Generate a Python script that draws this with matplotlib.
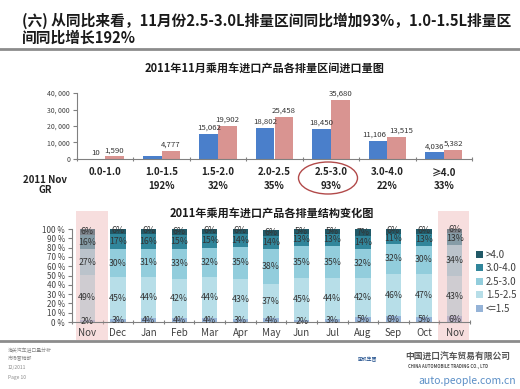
import matplotlib
matplotlib.use("Agg")
import matplotlib.pyplot as plt
from matplotlib.patches import Rectangle, Ellipse
from matplotlib.lines import Line2D
import numpy as np

plt.rcParams['font.family'] = ['Noto Sans CJK SC', 'DejaVu Sans']

# ---------------- data ----------------
title_text = "(六) 从同比来看，11月份2.5-3.0L排量区间同比增加93%，1.0-1.5L排量区\n间同比增长192%"
top_title = "2011年11月乘用车进口产品各排量区间进口量图"
bottom_title = "2011年乘用车进口产品各排量结构变化图"

disp_cats = ["0.0-1.0", "1.0-1.5", "1.5-2.0", "2.0-2.5", "2.5-3.0", "3.0-4.0", "≥4.0"]
nov2010 = [10, 1636, 15062, 18802, 18450, 11106, 4036]
nov2010_labels = ["10", "", "15,062", "18,802", "18,450", "11,106", "4,036"]
nov2011 = [1590, 4777, 19902, 25458, 35680, 13515, 5382]
nov2011_labels = ["1,590", "4,777", "19,902", "25,458", "35,680", "13,515", "5,382"]
growth = ["", "192%", "32%", "35%", "93%", "22%", "33%"]
top_yticks = [0, 10000, 20000, 30000, 40000]
top_yticklabels = ["0", "10, 000", "20, 000", "30, 000", "40, 000"]

months = ["Nov", "Dec", "Jan", "Feb", "Mar", "Apr", "May", "Jun", "Jul", "Aug", "Sep", "Oct", "Nov"]
seg_names = ["<=1.5", "1.5-2.5", "2.5-3.0", "3.0-4.0", ">4.0"]
share_le15 = [2, 3, 4, 4, 4, 3, 4, 2, 3, 5, 6, 5, 6]
share_15_25 = [49, 45, 44, 42, 44, 43, 37, 45, 44, 42, 46, 47, 43]
share_25_30 = [27, 30, 31, 33, 32, 35, 38, 35, 35, 32, 32, 30, 34]
share_30_40 = [16, 17, 16, 15, 15, 14, 14, 13, 13, 14, 11, 13, 13]
share_gt40 = [6, 6, 6, 6, 6, 6, 6, 5, 5, 7, 6, 6, 6]
pct_ticks = [0, 10, 20, 30, 40, 50, 60, 70, 80, 90, 100]

# ---------------- figure ----------------
W, H = 520, 389
fig = plt.figure(figsize=(W / 100, H / 100), dpi=100)
fig.patch.set_facecolor("white")

def fx(px):
    return px / W

def fy(py):
    return 1 - py / H

# page title
fig.text(fx(22), fy(13), title_text, fontsize=10.6, fontweight="bold",
         color="#1a1a1a", va="top", ha="left", linespacing=1.0)
fig.add_artist(Line2D([0, 1], [fy(49), fy(49)], color="#8c8c8c", lw=2))
fig.add_artist(Line2D([0, 1], [fy(341), fy(341)], color="#8c8c8c", lw=2))

# ---------------- top chart ----------------
ax1 = fig.add_axes([fx(77), fy(159), fx(472) - fx(77), fy(93) - fy(159)])
x = np.arange(len(disp_cats))
bw = 0.33
b1 = ax1.bar(x - bw / 2, nov2010, bw, color="#4a7fcb", zorder=2)
b2 = ax1.bar(x + bw / 2, nov2011, bw, color="#d99491", zorder=2)
for i, (xi, v, lab) in enumerate(zip(x - bw / 2, nov2010, nov2010_labels)):
    if lab:
        dx = -3 if i == 5 else 0
        ax1.annotate(lab, (xi, v), xytext=(dx, 1.5), textcoords="offset points",
                     ha="center", va="bottom", fontsize=5.6, color="#333333")
for i, (xi, v, lab) in enumerate(zip(x + bw / 2, nov2011, nov2011_labels)):
    dx = 3 if i == 5 else 0
    ax1.annotate(lab, (xi, v), xytext=(dx, 1.5), textcoords="offset points",
                 ha="center", va="bottom", fontsize=5.6, color="#333333")
ax1.set_xlim(-0.5, len(disp_cats) - 0.5)
ax1.set_ylim(0, 40000)
ax1.set_yticks(top_yticks)
ax1.set_yticklabels(top_yticklabels, fontsize=5, color="#404040")
ax1.set_xticks(np.arange(len(disp_cats) + 1) - 0.5)
ax1.set_xticklabels([])
ax1.tick_params(axis="x", length=3, direction="inout", color="#808080")
ax1.tick_params(axis="y", length=3, direction="out", color="#808080", pad=2)
for s in ["top", "right"]:
    ax1.spines[s].set_visible(False)
for s in ["left", "bottom"]:
    ax1.spines[s].set_color("#808080")
    ax1.spines[s].set_linewidth(0.8)
ax1.set_facecolor("none")
for xi, c, g in zip(x, disp_cats, growth):
    ax1.text(xi, -0.2, c, transform=ax1.get_xaxis_transform(), ha="center", va="center",
             fontsize=7, fontweight="bold", color="#222222")
    if g:
        ax1.text(xi, -0.41, g, transform=ax1.get_xaxis_transform(), ha="center", va="center",
                 fontsize=7, fontweight="bold", color="#222222")
fig.text(fx(265), fy(68), top_title, fontsize=8, fontweight="bold", ha="center", va="center",
         color="#1a1a1a")
fig.text(fx(45), fy(185), "2011 Nov\nGR", fontsize=7, fontweight="bold", ha="center",
         va="center", color="#222222", linespacing=1.0)
fig.add_artist(Ellipse((fx(328), fy(178)), fx(59), 32 / H, fill=False,
                       edgecolor="#b24a4a", lw=1))

# ---------------- bottom chart ----------------
ax2 = fig.add_axes([fx(72), fy(322), fx(470) - fx(72), fy(229) - fy(322)])
m = np.arange(len(months))
series = [share_le15, share_15_25, share_25_30, share_30_40, share_gt40]
colors = ["#95b3d7", "#b7dee8", "#92cddc", "#31869b", "#215967"]
bottom = np.zeros(len(months))
handles = []
for vals, col, name in zip(series, colors, seg_names):
    vals = np.array(vals, dtype=float)
    b = ax2.bar(m, vals, 0.5, bottom=bottom, color=col, zorder=1, label=name)
    handles.append(b)
    for xi, v, bt in zip(m, vals, bottom):
        ax2.text(xi, bt + v / 2, f"{int(v)}%", ha="center", va="center", fontsize=6.3,
                 color="#333333", zorder=4)
    bottom = bottom + vals
ax2.set_xlim(-0.5, len(months) - 0.5)
ax2.set_ylim(0, 100)
ax2.set_yticks(pct_ticks)
ax2.set_yticklabels([f"{t} %" for t in pct_ticks], fontsize=5.8, color="#404040")
ax2.set_xticks(np.arange(len(months) + 1) - 0.5)
ax2.set_xticklabels([])
ax2.tick_params(axis="x", length=3, direction="inout", color="#808080")
ax2.tick_params(axis="y", length=3, direction="out", color="#808080", pad=2)
for s in ["top", "right"]:
    ax2.spines[s].set_visible(False)
for s in ["left", "bottom"]:
    ax2.spines[s].set_color("#808080")
    ax2.spines[s].set_linewidth(0.8)
ax2.set_facecolor("none")
for xi, mo in zip(m, months):
    ax2.text(xi, -0.12, mo, transform=ax2.get_xaxis_transform(), ha="center", va="center",
             fontsize=7, color="#404040", zorder=4)
# highlight bands
for x0, x1 in [(76, 108), (438, 469)]:
    r = Rectangle((fx(x0), fy(340)), fx(x1) - fx(x0), fy(211) - fy(340),
                  transform=fig.transFigure, facecolor="#eeb7b7", alpha=0.45,
                  edgecolor="none", zorder=2, clip_on=False)
    ax2.add_artist(r)
fig.text(fx(272), fy(213), bottom_title, fontsize=8, fontweight="bold", ha="center",
         va="center", color="#1a1a1a")
leg = fig.legend(handles[::-1], seg_names[::-1], loc="upper left",
                 bbox_to_anchor=(fx(472), fy(246)), frameon=False, fontsize=7,
                 handlelength=0.7, handleheight=0.7, handletextpad=0.3,
                 labelspacing=0.35, borderaxespad=0)
for t in leg.get_texts():
    t.set_color("#404040")

# ---------------- footer ----------------
footer = ["海关汽车进口量分析", "市场营销部", "12/2011", "Page 10"]
for i, ftxt in enumerate(footer):
    fig.text(fx(8), fy(350 + i * 9), ftxt, fontsize=3.5, color="#888888", ha="left",
             va="center")
fig.text(fx(358), fy(360), "国机集团", fontsize=3.5, color="#1f4e8c", ha="left", va="center")
fig.text(fx(405), fy(357), "中国进口汽车贸易有限公司", fontsize=6.3, color="#555555",
         ha="left", va="center", fontweight="bold")
fig.text(fx(408), fy(366), "CHINA AUTOMOBILE TRADING CO., LTD", fontsize=3, color="#555555",
         ha="left", va="center", fontweight="bold")
fig.text(fx(516), fy(381), "auto.people.com.cn", fontsize=7.5, color="#5b8fc7",
         ha="right", va="center")

fig.savefig("out.png", dpi=100)
